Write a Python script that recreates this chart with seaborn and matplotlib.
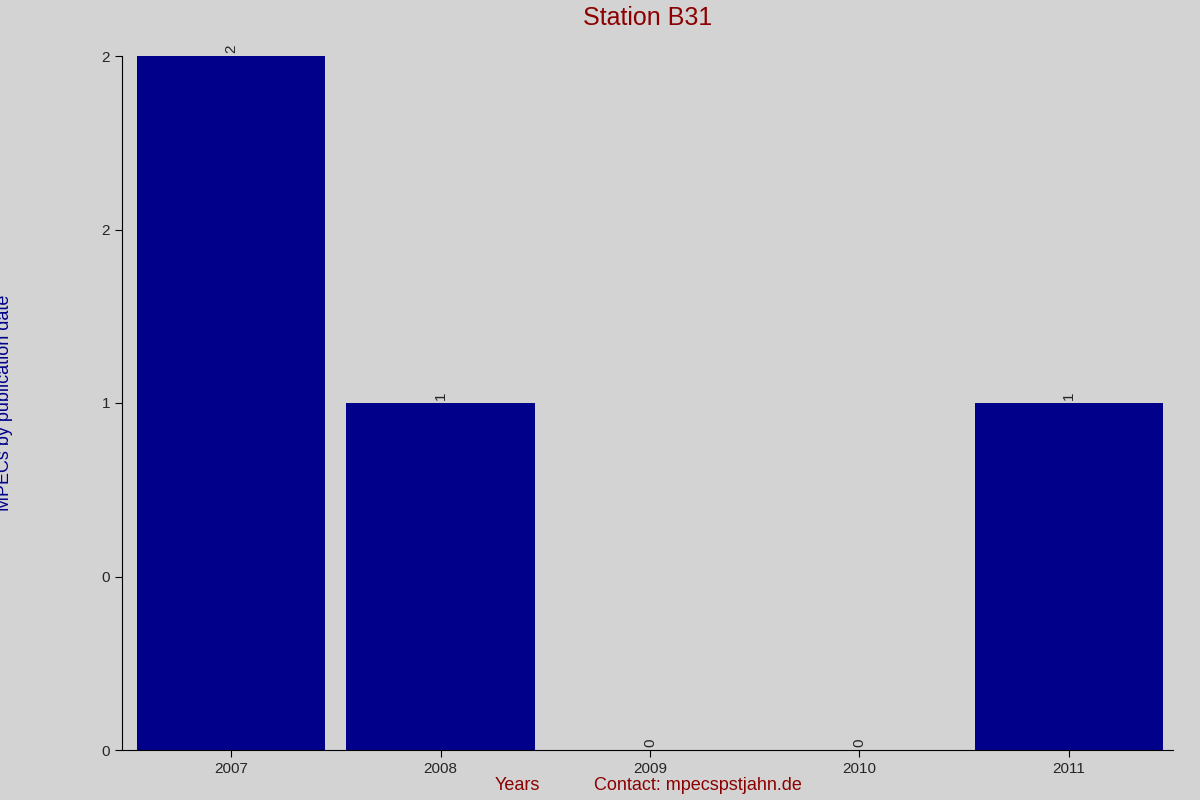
import matplotlib
matplotlib.use("Agg")
import matplotlib.pyplot as plt
import seaborn as sns
import pandas as pd

years = ["2007", "2008", "2009", "2010", "2011"]
counts = [2, 1, 0, 0, 1]
ytick_vals = [0, 0.5, 1, 1.5, 2]
ytick_labels = ["0", "0", "1", "2", "2"]

sns.set_style("white")
plt.rcParams['font.family'] = ['Liberation Sans', 'DejaVu Sans']
bg = "#d3d3d3"
fig = plt.figure(figsize=(12, 8), dpi=100, facecolor=bg)
ax = fig.add_axes([0.1017, 0.0625, 0.8758, 0.8675], facecolor=bg)
df = pd.DataFrame({"year": years, "count": counts})
sns.barplot(data=df, x="year", y="count", color="#00008b", saturation=1, width=0.9,
            linewidth=0, ax=ax)
ax.set_xlim(-0.521, 4.497)
ax.set_ylim(0, 2)
ax.set_yticks(ytick_vals)
ax.set_yticklabels(ytick_labels)
for i, v in enumerate(counts):
    ax.text(i, v + 0.01, str(v), rotation=90, ha="center", va="bottom", fontsize=11)
for s in ["top", "right"]:
    ax.spines[s].set_visible(False)
for s in ["left", "bottom"]:
    ax.spines[s].set_color("black")
ax.tick_params(axis="both", direction="out", length=5, color="black", labelsize=11, bottom=True, left=True)
ax.set_xlabel("")
ax.set_ylabel("MPECs by publication date", color="#00008b", fontsize=13)
ax.yaxis.set_label_coords(-0.104, 0.5)
ax.set_title("Station B31", color="#8b0000", fontsize=18, pad=22)
fig.text(0.431, 0.008, "Years", color="#8b0000", fontsize=13, ha="center", va="bottom")
fig.text(0.582, 0.008, "Contact: mpecspstjahn.de", color="#8b0000", fontsize=13, ha="center", va="bottom")
fig.savefig("out.png", dpi=100, facecolor=bg)
